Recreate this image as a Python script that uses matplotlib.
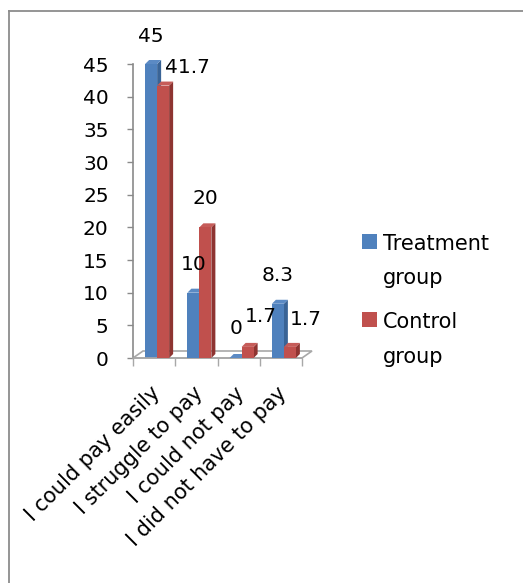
import matplotlib
matplotlib.use("Agg")
import matplotlib.pyplot as plt
from matplotlib.patches import Polygon
from matplotlib.lines import Line2D
from matplotlib import transforms
import numpy as np

plt.rcParams['font.family'] = ['DejaVu Sans']

categories = ["I could pay easily", "I struggle to pay", "I could not pay", "I did not have to pay"]
treatment = [45, 10, 0, 8.3]
control = [41.7, 20, 1.7, 1.7]
series_names = ["Treatment\ngroup", "Control\ngroup"]
y_ticks = [0, 5, 10, 15, 20, 25, 30, 35, 40, 45]

# colours: front, side, top
BLUE = ("#4F81BD", "#3A6496", "#5B8AC4")
RED = ("#C0504D", "#8E3431", "#C65C59")
AXIS_GREY = "#8A8A8A"
FLOOR_GREY = "#A8A8A8"

# value label offsets in pixels (dx, dy) from the top centre of each bar
treat_label_off = [(0, 28), (0, 28), (0, 30), (0, 28)]
ctrl_label_off = [(24, 18), (0, 29), (13, 30), (16, 27)]

W, H, DPI = 523, 583, 100
fig = plt.figure(figsize=(W / DPI, H / DPI), dpi=DPI)
fig.patch.set_facecolor("white")

# outer frame of the chart area (top and left edges)
frame_kw = dict(transform=fig.transFigure, color="#8C8C8C", linewidth=1.3)
fig.add_artist(Line2D([9 / W, 9 / W], [0, 1 - 11 / H], **frame_kw))
fig.add_artist(Line2D([9 / W, 1], [1 - 11 / H, 1 - 11 / H], **frame_kw))

ax = fig.add_axes([133 / W, 225 / H, 169 / W, 294 / H])
ax.set_xlim(-0.5, len(categories) - 0.5)
ax.set_ylim(0, 45)

# pixel -> data conversions for the pseudo-3D depth
px_x = 169 / len(categories)
px_y = 294 / 45.0


def dxd(p):
    return p / px_x


def dyd(p):
    return p / px_y


bar_w = 12 / px_x
shift = 3 / px_x
x = np.arange(len(categories))
x_t = x + shift - bar_w / 2
x_c = x + shift + bar_w / 2

depth_x, depth_y = dxd(4), dyd(4)
floor_x, floor_y = dxd(10), dyd(7)

# floor of the plot
floor = Polygon([(-0.5, 0), (len(categories) - 0.5, 0),
                 (len(categories) - 0.5 + floor_x, floor_y), (-0.5 + floor_x, floor_y)],
                closed=True, facecolor="white", edgecolor=FLOOR_GREY, linewidth=1.2,
                clip_on=False, zorder=1)
ax.add_patch(floor)


def bar3d(xc, h, cols, z):
    left, right = xc - bar_w / 2, xc + bar_w / 2
    side = Polygon([(right, 0), (right + depth_x, depth_y), (right + depth_x, h + depth_y), (right, h)],
                   closed=True, facecolor=cols[1], edgecolor="none", clip_on=False, zorder=z)
    top = Polygon([(left, h), (right, h), (right + depth_x, h + depth_y), (left + depth_x, h + depth_y)],
                  closed=True, facecolor=cols[2], edgecolor="none", clip_on=False, zorder=z)
    ax.add_patch(side)
    ax.add_patch(top)


z = 2
for i in range(len(categories)):
    bar3d(x_t[i], treatment[i], BLUE, z)
    ax.bar(x_t[i], treatment[i], width=bar_w, color=BLUE[0], zorder=z + 0.5,
           label=series_names[0] if i == 0 else None)
    bar3d(x_c[i], control[i], RED, z + 1)
    ax.bar(x_c[i], control[i], width=bar_w, color=RED[0], zorder=z + 1.5,
           label=series_names[1] if i == 0 else None)
    z += 2

for i in range(len(categories)):
    ax.annotate(f"{treatment[i]:g}", (x_t[i], treatment[i]), xytext=treat_label_off[i],
                textcoords="offset pixels", ha="center", va="center", fontsize=14.5, zorder=20,
                annotation_clip=False)
    ax.annotate(f"{control[i]:g}", (x_c[i], control[i]), xytext=ctrl_label_off[i],
                textcoords="offset pixels", ha="center", va="center", fontsize=14.5, zorder=20,
                annotation_clip=False)

# axes styling
for s in ["top", "right"]:
    ax.spines[s].set_visible(False)
ax.spines["left"].set_color(AXIS_GREY)
ax.spines["left"].set_linewidth(1.2)
ax.spines["bottom"].set_color(FLOOR_GREY)
ax.spines["bottom"].set_linewidth(1.2)
ax.set_yticks(y_ticks)
ax.tick_params(axis="y", length=4.5, width=1.0, color=AXIS_GREY, pad=13, labelsize=14.5)
ax.set_xticks(x)
ax.set_xticklabels(categories, rotation=45, ha="right", rotation_mode="anchor", fontsize=15)
ax.tick_params(axis="x", which="major", length=0, pad=18)
ax.set_xticks(np.arange(-0.5, len(categories), 1.0), minor=True)
ax.tick_params(axis="x", which="minor", length=5.5, width=1.0, color=FLOOR_GREY)
off = transforms.ScaledTranslation(-4 / DPI, 0, fig.dpi_scale_trans)
for lab in ax.get_xticklabels():
    lab.set_transform(lab.get_transform() + off)

leg = fig.legend(loc="upper left", bbox_to_anchor=(362 / W, 1 - 234 / H), frameon=False,
                 fontsize=15, handlelength=0.72, handleheight=0.72, handletextpad=0.3,
                 labelspacing=1.15, borderpad=0, borderaxespad=0)
for t in leg.get_texts():
    t.set_linespacing(1.9)
# put each colour key beside the first line of its label
for col in leg._legend_handle_box.get_children():
    for item in col.get_children():
        item.align = "top"

fig.savefig("out.png", dpi=DPI, facecolor="white")
